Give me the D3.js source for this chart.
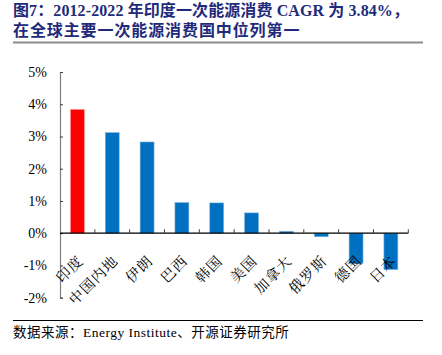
<!DOCTYPE html>
<html><head><meta charset="utf-8">
<script src="https://cdn.jsdelivr.net/npm/d3@7"></script>
<style>body{margin:0;background:#fff}svg{display:block}</style>
</head><body>
<script>
const categories = ["印度","中国内地","伊朗","巴西","韩国","美国","加拿大","俄罗斯","德国","日本"];
const values = [3.84, 3.12, 2.83, 0.95, 0.94, 0.63, 0.06, -0.11, -0.94, -1.13];
const highlight = ["印度"];
const yTicks = [-2,-1,0,1,2,3,4,5];
const titleLines = ["图7：2012-2022 年印度一次能源消费 CAGR 为 3.84%，","在全球主要一次能源消费国中位列第一"];
const source = "数据来源：Energy Institute、开源证券研究所";

const W=442,H=355;
const svg=d3.select("body").append("svg").attr("width",W).attr("height",H);
const serif='"Liberation Serif","Times New Roman",serif';
const cjk='"Noto Serif CJK SC","Noto Sans CJK SC",serif';

// title
svg.selectAll("text.title").data(titleLines).join("text").attr("class","title")
  .attr("x",13).attr("y",(d,i)=>16+i*20)
  .attr("font-family",'"Liberation Serif","Noto Sans CJK SC",serif').attr("font-weight","bold")
  .attr("font-size",16).attr("letter-spacing",(d,i)=>i===1?0.9:0.1)
  .attr("fill","#1f2a7a").text(d=>d);
svg.append("line").attr("x1",13).attr("x2",423).attr("y1",42.5).attr("y2",42.5)
  .attr("stroke","#8c8c8c").attr("stroke-width",2);

const x=d3.scaleBand().domain(categories).range([60,408.3]).paddingInner(0.6).paddingOuter(0.3);
const y=d3.scaleLinear().domain([-2,5]).range([297.7,72]);

// bars
svg.selectAll("rect.bar").data(values).join("rect").attr("class","bar")
  .attr("x",(d,i)=>x(categories[i])).attr("width",x.bandwidth())
  .attr("y",d=>y(Math.max(0,d))).attr("height",d=>Math.abs(y(d)-y(0)))
  .attr("fill",(d,i)=>highlight.includes(categories[i])?"#ff0000":"#0070c0")
  .attr("stroke",(d,i)=>highlight.includes(categories[i])?"#ff9a9a":"#7fb5e0").attr("stroke-width",0.6);

// y axis
const yAxis=d3.axisLeft(y).tickValues(yTicks).tickFormat(d=>d+"%").tickSize(-3).tickPadding(13);
const gy=svg.append("g").attr("transform","translate(60,0)").call(yAxis);
gy.select(".domain").attr("stroke","#808080").attr("stroke-width",1.2);
gy.selectAll(".tick line").attr("stroke","#404040");
gy.selectAll("text").attr("font-family",serif).attr("font-size",14).attr("fill","#000");

// x axis
const bounds=d3.range(categories.length+1).map(i=>60+i*(348.3/categories.length));
const gx=svg.append("g");
gx.append("line").attr("x1",60).attr("x2",408.3).attr("y1",y(0)).attr("y2",y(0)).attr("stroke","#000").attr("stroke-width",1.2);
gx.selectAll("line.tk").data(bounds.slice(1)).join("line").attr("class","tk")
  .attr("x1",d=>d).attr("x2",d=>d).attr("y1",y(0)).attr("y2",y(0)-4).attr("stroke","#404040");
gx.selectAll("text").data(categories).join("text")
  .attr("transform",d=>`translate(${x(d)+x.bandwidth()/2-1},${y(0)+21}) rotate(-45)`)
  .attr("text-anchor","end").attr("dy","0.75em").attr("letter-spacing",1)
  .attr("font-family",cjk).attr("font-size",14.5).attr("fill","#000").text(d=>d);

// footer
svg.append("line").attr("x1",13).attr("x2",423).attr("y1",320.5).attr("y2",320.5).attr("stroke","#000").attr("stroke-width",1);
svg.append("text").attr("x",13).attr("y",337).attr("font-family",'"Liberation Serif","Noto Sans CJK SC",serif')
  .attr("font-size",13.5).attr("letter-spacing",0.5).attr("fill","#000").text(source);
</script>
</body></html>
